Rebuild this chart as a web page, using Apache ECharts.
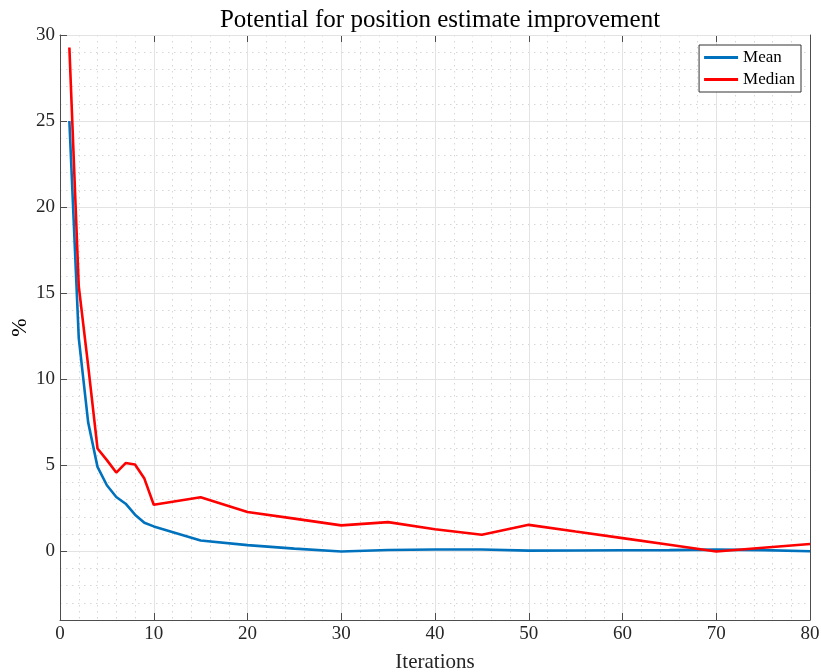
<!DOCTYPE html>
<html>
<head>
<meta charset="utf-8">
<script src="https://cdn.jsdelivr.net/npm/echarts@6/dist/echarts.min.js"></script>
<style>
  html, body { margin: 0; padding: 0; background: #fff; }
  #chart { width: 821px; height: 672px; }
</style>
</head>
<body>
<div id="chart"></div>
<script>
// Iteration counts at which the estimate was evaluated
const iterations = [1, 2, 3, 4, 5, 6, 7, 8, 9, 10, 15, 20, 25, 30, 35, 40, 45, 50, 55, 60, 65, 70, 75, 80];
// Mean improvement potential (%)
const meanValues = [25.0, 12.4, 7.5, 4.9, 3.83, 3.15, 2.76, 2.12, 1.65, 1.44, 0.62, 0.35, 0.15, -0.02, 0.07, 0.1, 0.1, 0.03, 0.04, 0.05, 0.06, 0.09, 0.06, 0.0];
// Median improvement potential (%)
const medianValues = [29.27, 15.4, 10.8, 5.97, 5.29, 4.57, 5.12, 5.04, 4.22, 2.70, 3.13, 2.28, 1.89, 1.5, 1.69, 1.27, 0.95, 1.53, 1.14, 0.76, 0.37, -0.02, 0.2, 0.42];
const yTickValues = [0, 5, 10, 15, 20, 25, 30];

const toPairs = (xs, ys) => xs.map((x, i) => [x, ys[i]]);

const serif = '"Liberation Serif", "DejaVu Serif", serif';
const axisColor = '#4d4d4d';
const majorGrid = '#e3e3e3';
const minorGrid = '#d6d6d6';
const dotted = [1.5, 4.5];

const chart = echarts.init(document.getElementById('chart'), null, { renderer: 'canvas' });

chart.setOption({
  animation: false,
  backgroundColor: '#fff',
  title: {
    text: 'Potential for position estimate improvement',
    left: 435,
    textAlign: 'center',
    top: 3,
    textStyle: { fontFamily: serif, fontSize: 25, fontWeight: 'normal', color: '#000' }
  },
  legend: {
    right: 20,
    top: 45,
    orient: 'vertical',
    icon: 'rect',
    itemWidth: 34,
    itemHeight: 3,
    itemGap: 5,
    padding: [4, 6, 4, 5],
    backgroundColor: '#fff',
    borderColor: '#333',
    borderWidth: 1,
    borderRadius: 0,
    textStyle: { fontFamily: serif, fontSize: 17, color: '#000' },
    data: ['Mean', 'Median']
  },
  grid: { left: 60, right: 11, top: 35, bottom: 52, outerBoundsMode: 'none', containLabel: false },
  xAxis: [
    {
      type: 'value',
      min: 0, max: 80, interval: 10,
      name: 'Iterations',
      nameLocation: 'middle',
      nameGap: 32,
      nameTextStyle: { fontFamily: serif, fontSize: 21, color: '#262626' },
      axisLine: { show: true, onZero: false, lineStyle: { color: axisColor, width: 1 } },
      axisTick: { show: true, inside: true, length: 7, lineStyle: { color: axisColor } },
      axisLabel: { fontFamily: serif, fontSize: 19, color: '#262626', margin: 5 },
      splitLine: { show: true, lineStyle: { color: majorGrid, width: 1 } },
      minorTick: { show: false, splitNumber: 5 },
      minorSplitLine: { show: true, lineStyle: { color: minorGrid, type: dotted, width: 1 } }
    },
    {
      type: 'value',
      position: 'top',
      min: 0, max: 80, interval: 10,
      axisLine: { show: true, onZero: false, lineStyle: { color: axisColor, width: 1 } },
      axisTick: { show: true, inside: true, length: 7, lineStyle: { color: axisColor } },
      axisLabel: { show: false },
      splitLine: { show: false }
    }
  ],
  yAxis: [
    {
      type: 'value',
      min: -4, max: 30, interval: 1,
      name: '%',
      nameLocation: 'middle',
      nameGap: 29,
      nameMoveOverlap: false,
      nameTextStyle: { fontFamily: serif, fontSize: 22, color: '#000' },
      axisLine: { show: true, onZero: false, lineStyle: { color: axisColor, width: 1 } },
      axisTick: { show: true, inside: true, length: 7, customValues: yTickValues, lineStyle: { color: axisColor } },
      axisLabel: { fontFamily: serif, fontSize: 19, color: '#262626', margin: 5, customValues: yTickValues },
      splitLine: { show: true, lineStyle: { color: majorGrid, width: 1 } },
      z: 2
    },
    {
      type: 'value',
      position: 'right',
      min: -4, max: 30, interval: 1,
      axisLine: { show: true, onZero: false, lineStyle: { color: axisColor, width: 1 } },
      axisTick: { show: true, inside: true, length: 7, customValues: yTickValues, lineStyle: { color: axisColor } },
      axisLabel: { show: false },
      splitLine: { show: false }
    },
    {
      // dotted minor grid at every unit
      type: 'value',
      position: 'left',
      min: -4, max: 30, interval: 1,
      axisLine: { show: false, onZero: false },
      axisTick: { show: false },
      axisLabel: { show: false },
      splitLine: { show: true, lineStyle: { color: minorGrid, type: dotted, width: 1 } },
      z: 0
    }
  ],
  series: [
    {
      name: 'Mean',
      type: 'line',
      xAxisIndex: 0, yAxisIndex: 0,
      data: toPairs(iterations, meanValues),
      symbol: 'none',
      color: '#0072BD',
      lineStyle: { width: 2.6, color: '#0072BD' },
      z: 3
    },
    {
      name: 'Median',
      type: 'line',
      xAxisIndex: 0, yAxisIndex: 0,
      data: toPairs(iterations, medianValues),
      symbol: 'none',
      color: '#FF0000',
      lineStyle: { width: 2.6, color: '#FF0000' },
      z: 4
    }
  ]
});
</script>
</body>
</html>
